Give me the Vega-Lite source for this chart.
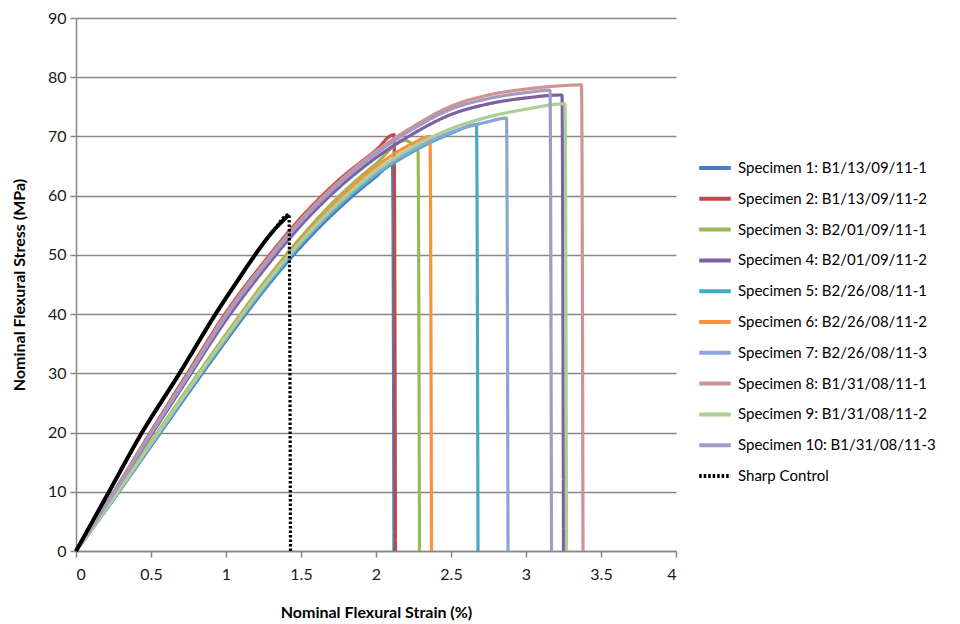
{
  "$schema": "https://vega.github.io/schema/vega-lite/v6.json",
  "width": 600,
  "height": 533,
  "autosize": {"type": "none"},
  "padding": {"left": 76, "top": 18, "right": 284, "bottom": 73},
  "background": "white",
  "config": {
    "view": {"stroke": null},
    "font": "Lato",
    "axis": {
      "domainColor": "#878787",
      "domainWidth": 1.5,
      "tickColor": "#878787",
      "tickWidth": 1.5,
      "tickSize": 6,
      "gridColor": "#878787",
      "gridWidth": 1.5,
      "labelFont": "Lato",
      "labelFontSize": 16,
      "labelColor": "#1a1a1a",
      "titleFont": "Lato",
      "titleFontSize": 16,
      "titleFontWeight": "bold",
      "titleColor": "#000000"
    },
    "legend": {
      "labelFont": "Lato",
      "labelFontSize": 15,
      "labelColor": "#000000",
      "symbolStrokeWidth": 4
    }
  },
  "datasets": {
    "curves": [
      {"s": "Specimen 1: B1/13/09/11-1", "x": 0, "y": 0},
      {"s": "Specimen 1: B1/13/09/11-1", "x": 0.25, "y": 8.7},
      {"s": "Specimen 1: B1/13/09/11-1", "x": 0.5, "y": 17.7},
      {"s": "Specimen 1: B1/13/09/11-1", "x": 0.75, "y": 26.7},
      {"s": "Specimen 1: B1/13/09/11-1", "x": 1.0, "y": 35.5},
      {"s": "Specimen 1: B1/13/09/11-1", "x": 1.25, "y": 43.9},
      {"s": "Specimen 1: B1/13/09/11-1", "x": 1.5, "y": 51.4},
      {"s": "Specimen 1: B1/13/09/11-1", "x": 1.75, "y": 57.8},
      {"s": "Specimen 1: B1/13/09/11-1", "x": 2.0, "y": 63.2},
      {"s": "Specimen 1: B1/13/09/11-1", "x": 2.11, "y": 65.3},
      {"s": "Specimen 1: B1/13/09/11-1", "x": 2.12, "y": 0},

      {"s": "Specimen 2: B1/13/09/11-2", "x": 0, "y": 0},
      {"s": "Specimen 2: B1/13/09/11-2", "x": 0.25, "y": 9.9},
      {"s": "Specimen 2: B1/13/09/11-2", "x": 0.5, "y": 20.2},
      {"s": "Specimen 2: B1/13/09/11-2", "x": 0.75, "y": 30.3},
      {"s": "Specimen 2: B1/13/09/11-2", "x": 1.0, "y": 40.3},
      {"s": "Specimen 2: B1/13/09/11-2", "x": 1.25, "y": 48.7},
      {"s": "Specimen 2: B1/13/09/11-2", "x": 1.5, "y": 56.3},
      {"s": "Specimen 2: B1/13/09/11-2", "x": 1.75, "y": 62.6},
      {"s": "Specimen 2: B1/13/09/11-2", "x": 2.0, "y": 67.7},
      {"s": "Specimen 2: B1/13/09/11-2", "x": 2.12, "y": 70.3},
      {"s": "Specimen 2: B1/13/09/11-2", "x": 2.13, "y": 0},

      {"s": "Specimen 3: B2/01/09/11-1", "x": 0, "y": 0},
      {"s": "Specimen 3: B2/01/09/11-1", "x": 0.25, "y": 9.0},
      {"s": "Specimen 3: B2/01/09/11-1", "x": 0.5, "y": 18.4},
      {"s": "Specimen 3: B2/01/09/11-1", "x": 0.75, "y": 27.6},
      {"s": "Specimen 3: B2/01/09/11-1", "x": 1.0, "y": 36.6},
      {"s": "Specimen 3: B2/01/09/11-1", "x": 1.25, "y": 45.2},
      {"s": "Specimen 3: B2/01/09/11-1", "x": 1.5, "y": 53.0},
      {"s": "Specimen 3: B2/01/09/11-1", "x": 1.75, "y": 59.8},
      {"s": "Specimen 3: B2/01/09/11-1", "x": 2.0, "y": 65.4},
      {"s": "Specimen 3: B2/01/09/11-1", "x": 2.19, "y": 69.3},
      {"s": "Specimen 3: B2/01/09/11-1", "x": 2.28, "y": 67.5},
      {"s": "Specimen 3: B2/01/09/11-1", "x": 2.29, "y": 0},

      {"s": "Specimen 4: B2/01/09/11-2", "x": 0, "y": 0},
      {"s": "Specimen 4: B2/01/09/11-2", "x": 0.25, "y": 9.6},
      {"s": "Specimen 4: B2/01/09/11-2", "x": 0.5, "y": 19.5},
      {"s": "Specimen 4: B2/01/09/11-2", "x": 0.75, "y": 29.3},
      {"s": "Specimen 4: B2/01/09/11-2", "x": 1.0, "y": 39.0},
      {"s": "Specimen 4: B2/01/09/11-2", "x": 1.25, "y": 47.4},
      {"s": "Specimen 4: B2/01/09/11-2", "x": 1.5, "y": 55.0},
      {"s": "Specimen 4: B2/01/09/11-2", "x": 1.75, "y": 61.3},
      {"s": "Specimen 4: B2/01/09/11-2", "x": 2.0, "y": 66.4},
      {"s": "Specimen 4: B2/01/09/11-2", "x": 2.25, "y": 70.5},
      {"s": "Specimen 4: B2/01/09/11-2", "x": 2.5, "y": 73.7},
      {"s": "Specimen 4: B2/01/09/11-2", "x": 2.75, "y": 75.5},
      {"s": "Specimen 4: B2/01/09/11-2", "x": 3.0, "y": 76.5},
      {"s": "Specimen 4: B2/01/09/11-2", "x": 3.24, "y": 77.0},
      {"s": "Specimen 4: B2/01/09/11-2", "x": 3.25, "y": 0},

      {"s": "Specimen 5: B2/26/08/11-1", "x": 0, "y": 0},
      {"s": "Specimen 5: B2/26/08/11-1", "x": 0.25, "y": 8.8},
      {"s": "Specimen 5: B2/26/08/11-1", "x": 0.5, "y": 17.9},
      {"s": "Specimen 5: B2/26/08/11-1", "x": 0.75, "y": 27.0},
      {"s": "Specimen 5: B2/26/08/11-1", "x": 1.0, "y": 35.8},
      {"s": "Specimen 5: B2/26/08/11-1", "x": 1.25, "y": 44.2},
      {"s": "Specimen 5: B2/26/08/11-1", "x": 1.5, "y": 51.8},
      {"s": "Specimen 5: B2/26/08/11-1", "x": 1.75, "y": 58.2},
      {"s": "Specimen 5: B2/26/08/11-1", "x": 2.0, "y": 63.5},
      {"s": "Specimen 5: B2/26/08/11-1", "x": 2.25, "y": 67.5},
      {"s": "Specimen 5: B2/26/08/11-1", "x": 2.5, "y": 70.5},
      {"s": "Specimen 5: B2/26/08/11-1", "x": 2.67, "y": 72.0},
      {"s": "Specimen 5: B2/26/08/11-1", "x": 2.68, "y": 0},

      {"s": "Specimen 6: B2/26/08/11-2", "x": 0, "y": 0},
      {"s": "Specimen 6: B2/26/08/11-2", "x": 0.25, "y": 8.9},
      {"s": "Specimen 6: B2/26/08/11-2", "x": 0.5, "y": 18.2},
      {"s": "Specimen 6: B2/26/08/11-2", "x": 0.75, "y": 27.3},
      {"s": "Specimen 6: B2/26/08/11-2", "x": 1.0, "y": 36.3},
      {"s": "Specimen 6: B2/26/08/11-2", "x": 1.25, "y": 44.9},
      {"s": "Specimen 6: B2/26/08/11-2", "x": 1.5, "y": 52.6},
      {"s": "Specimen 6: B2/26/08/11-2", "x": 1.75, "y": 59.3},
      {"s": "Specimen 6: B2/26/08/11-2", "x": 2.0, "y": 64.9},
      {"s": "Specimen 6: B2/26/08/11-2", "x": 2.25, "y": 68.9},
      {"s": "Specimen 6: B2/26/08/11-2", "x": 2.36, "y": 70.0},
      {"s": "Specimen 6: B2/26/08/11-2", "x": 2.37, "y": 0},

      {"s": "Specimen 7: B2/26/08/11-3", "x": 0, "y": 0},
      {"s": "Specimen 7: B2/26/08/11-3", "x": 0.25, "y": 8.8},
      {"s": "Specimen 7: B2/26/08/11-3", "x": 0.5, "y": 18.0},
      {"s": "Specimen 7: B2/26/08/11-3", "x": 0.75, "y": 27.1},
      {"s": "Specimen 7: B2/26/08/11-3", "x": 1.0, "y": 36.0},
      {"s": "Specimen 7: B2/26/08/11-3", "x": 1.25, "y": 44.5},
      {"s": "Specimen 7: B2/26/08/11-3", "x": 1.5, "y": 52.0},
      {"s": "Specimen 7: B2/26/08/11-3", "x": 1.75, "y": 58.5},
      {"s": "Specimen 7: B2/26/08/11-3", "x": 2.0, "y": 63.8},
      {"s": "Specimen 7: B2/26/08/11-3", "x": 2.25, "y": 67.8},
      {"s": "Specimen 7: B2/26/08/11-3", "x": 2.5, "y": 70.7},
      {"s": "Specimen 7: B2/26/08/11-3", "x": 2.75, "y": 72.5},
      {"s": "Specimen 7: B2/26/08/11-3", "x": 2.87, "y": 73.1},
      {"s": "Specimen 7: B2/26/08/11-3", "x": 2.88, "y": 0},

      {"s": "Specimen 8: B1/31/08/11-1", "x": 0, "y": 0},
      {"s": "Specimen 8: B1/31/08/11-1", "x": 0.25, "y": 9.8},
      {"s": "Specimen 8: B1/31/08/11-1", "x": 0.5, "y": 20.0},
      {"s": "Specimen 8: B1/31/08/11-1", "x": 0.75, "y": 30.0},
      {"s": "Specimen 8: B1/31/08/11-1", "x": 1.0, "y": 40.0},
      {"s": "Specimen 8: B1/31/08/11-1", "x": 1.25, "y": 48.4},
      {"s": "Specimen 8: B1/31/08/11-1", "x": 1.5, "y": 56.0},
      {"s": "Specimen 8: B1/31/08/11-1", "x": 1.75, "y": 62.3},
      {"s": "Specimen 8: B1/31/08/11-1", "x": 2.0, "y": 67.5},
      {"s": "Specimen 8: B1/31/08/11-1", "x": 2.25, "y": 71.7},
      {"s": "Specimen 8: B1/31/08/11-1", "x": 2.5, "y": 75.1},
      {"s": "Specimen 8: B1/31/08/11-1", "x": 2.75, "y": 77.0},
      {"s": "Specimen 8: B1/31/08/11-1", "x": 3.0, "y": 78.0},
      {"s": "Specimen 8: B1/31/08/11-1", "x": 3.2, "y": 78.5},
      {"s": "Specimen 8: B1/31/08/11-1", "x": 3.37, "y": 78.7},
      {"s": "Specimen 8: B1/31/08/11-1", "x": 3.38, "y": 0},

      {"s": "Specimen 9: B1/31/08/11-2", "x": 0, "y": 0},
      {"s": "Specimen 9: B1/31/08/11-2", "x": 0.25, "y": 8.9},
      {"s": "Specimen 9: B1/31/08/11-2", "x": 0.5, "y": 18.2},
      {"s": "Specimen 9: B1/31/08/11-2", "x": 0.75, "y": 27.3},
      {"s": "Specimen 9: B1/31/08/11-2", "x": 1.0, "y": 36.2},
      {"s": "Specimen 9: B1/31/08/11-2", "x": 1.25, "y": 44.7},
      {"s": "Specimen 9: B1/31/08/11-2", "x": 1.5, "y": 52.3},
      {"s": "Specimen 9: B1/31/08/11-2", "x": 1.75, "y": 58.8},
      {"s": "Specimen 9: B1/31/08/11-2", "x": 2.0, "y": 64.2},
      {"s": "Specimen 9: B1/31/08/11-2", "x": 2.25, "y": 68.3},
      {"s": "Specimen 9: B1/31/08/11-2", "x": 2.5, "y": 71.3},
      {"s": "Specimen 9: B1/31/08/11-2", "x": 2.75, "y": 73.3},
      {"s": "Specimen 9: B1/31/08/11-2", "x": 3.0, "y": 74.6},
      {"s": "Specimen 9: B1/31/08/11-2", "x": 3.26, "y": 75.5},
      {"s": "Specimen 9: B1/31/08/11-2", "x": 3.27, "y": 0},

      {"s": "Specimen 10: B1/31/08/11-3", "x": 0, "y": 0},
      {"s": "Specimen 10: B1/31/08/11-3", "x": 0.25, "y": 9.7},
      {"s": "Specimen 10: B1/31/08/11-3", "x": 0.5, "y": 19.8},
      {"s": "Specimen 10: B1/31/08/11-3", "x": 0.75, "y": 29.7},
      {"s": "Specimen 10: B1/31/08/11-3", "x": 1.0, "y": 39.6},
      {"s": "Specimen 10: B1/31/08/11-3", "x": 1.25, "y": 48.0},
      {"s": "Specimen 10: B1/31/08/11-3", "x": 1.5, "y": 55.6},
      {"s": "Specimen 10: B1/31/08/11-3", "x": 1.75, "y": 61.9},
      {"s": "Specimen 10: B1/31/08/11-3", "x": 2.0, "y": 67.1},
      {"s": "Specimen 10: B1/31/08/11-3", "x": 2.25, "y": 71.3},
      {"s": "Specimen 10: B1/31/08/11-3", "x": 2.5, "y": 74.6},
      {"s": "Specimen 10: B1/31/08/11-3", "x": 2.75, "y": 76.4},
      {"s": "Specimen 10: B1/31/08/11-3", "x": 3.0, "y": 77.4},
      {"s": "Specimen 10: B1/31/08/11-3", "x": 3.16, "y": 77.8},
      {"s": "Specimen 10: B1/31/08/11-3", "x": 3.17, "y": 0},

      {"s": "Sharp Control", "x": 0, "y": 0},
      {"s": "Sharp Control", "x": 0.22, "y": 10},
      {"s": "Sharp Control", "x": 0.44, "y": 20},
      {"s": "Sharp Control", "x": 0.69, "y": 30},
      {"s": "Sharp Control", "x": 0.93, "y": 40},
      {"s": "Sharp Control", "x": 1.1, "y": 46.5},
      {"s": "Sharp Control", "x": 1.23, "y": 51.3},
      {"s": "Sharp Control", "x": 1.31, "y": 53.9},
      {"s": "Sharp Control", "x": 1.42, "y": 56.8},
      {"s": "Sharp Control", "x": 1.43, "y": 0}
    ]
  },
  "data": {"name": "curves"},
  "layer": [
    {
      "mark": {"type": "line", "strokeWidth": 3.2, "strokeJoin": "round", "interpolate": "monotone"},
      "encoding": {
        "x": {
          "field": "x", "type": "quantitative",
          "scale": {"domain": [0, 4], "nice": false},
          "axis": {
            "values": [0, 0.5, 1, 1.5, 2, 2.5, 3, 3.5, 4],
            "labelExpr": "'' + datum.value",
            "grid": false,
            "labelPadding": 9,
            "title": "Nominal Flexural Strain (%)",
            "titlePadding": 22
          }
        },
        "y": {
          "field": "y", "type": "quantitative",
          "scale": {"domain": [0, 90], "nice": false},
          "axis": {
            "values": [0, 10, 20, 30, 40, 50, 60, 70, 80, 90],
            "grid": true,
            "labelPadding": 4,
            "title": "Nominal Flexural Stress (MPa)",
            "titlePadding": 20
          }
        },
        "color": {
          "field": "s", "type": "nominal",
          "scale": {
            "domain": ["Specimen 1: B1/13/09/11-1", "Specimen 2: B1/13/09/11-2", "Specimen 3: B2/01/09/11-1", "Specimen 4: B2/01/09/11-2", "Specimen 5: B2/26/08/11-1", "Specimen 6: B2/26/08/11-2", "Specimen 7: B2/26/08/11-3", "Specimen 8: B1/31/08/11-1", "Specimen 9: B1/31/08/11-2", "Specimen 10: B1/31/08/11-3", "Sharp Control"],
            "range": ["#4A7EBB", "#BE4B48", "#98B954", "#7D60A0", "#46AAC5", "#F69240", "#8AA6D6", "#D09392", "#ABCF94", "#A599C6", "#000000"]
          },
          "legend": {
            "title": null,
            "orient": "none",
            "legendX": 621,
            "legendY": 132,
            "symbolType": "stroke",
            "symbolSize": 1000,
            "rowPadding": 4.8,
            "labelOffset": 5,
            "labelLimit": 300
          }
        },
        "strokeDash": {
          "field": "s", "type": "nominal",
          "scale": {
            "domain": ["Specimen 1: B1/13/09/11-1", "Specimen 2: B1/13/09/11-2", "Specimen 3: B2/01/09/11-1", "Specimen 4: B2/01/09/11-2", "Specimen 5: B2/26/08/11-1", "Specimen 6: B2/26/08/11-2", "Specimen 7: B2/26/08/11-3", "Specimen 8: B1/31/08/11-1", "Specimen 9: B1/31/08/11-2", "Specimen 10: B1/31/08/11-3", "Sharp Control"],
            "range": [[1, 0], [1, 0], [1, 0], [1, 0], [1, 0], [1, 0], [1, 0], [1, 0], [1, 0], [1, 0], [2.5, 2]]
          },
          "legend": {
            "title": null,
            "orient": "none",
            "legendX": 621,
            "legendY": 132,
            "symbolType": "stroke",
            "symbolSize": 1000,
            "rowPadding": 4.8,
            "labelOffset": 5,
            "labelLimit": 300
          }
        }
      }
    },
    {
      "transform": [{"filter": "datum.s === 'Sharp Control' && !(datum.x > 1 && datum.y === 0)"}],
      "mark": {"type": "line", "color": "#000000", "strokeWidth": 4, "strokeJoin": "round", "interpolate": "monotone"},
      "encoding": {
        "x": {"field": "x", "type": "quantitative"},
        "y": {"field": "y", "type": "quantitative"}
      }
    }
  ]
}
